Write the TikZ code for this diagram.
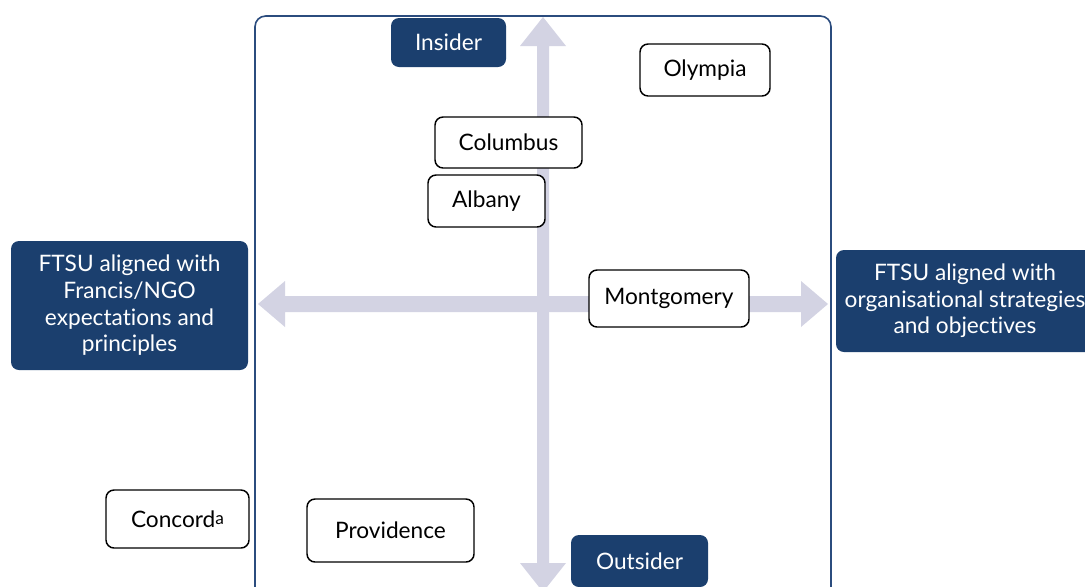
\documentclass[tikz,border=0pt]{standalone}
\usepackage{fontspec}
\setmainfont[Ligatures={NoCommon,NoRare}]{Lato}
\definecolor{navy}{HTML}{1B3F6E}
\definecolor{framec}{HTML}{2B4C7E}
\definecolor{arrowc}{HTML}{D3D3E3}
\begin{document}
\begin{tikzpicture}[x=0.75pt,y=-0.75pt,
  bluebox/.style={fill=navy, rounded corners=6pt, text=white, align=center, inner sep=0pt, font=\fontsize{17}{20}\selectfont},
  whitebox/.style={fill=white, draw=black, line width=1.1pt, rounded corners=6pt, inner sep=0pt, font=\fontsize{17}{20}\selectfont},
  axisarrow/.style={fill=arrowc, draw=none}]
\useasboundingbox (0,0) rectangle (1085,586);
\clip (0,0) rectangle (1085,586);
% frame
\draw[framec, line width=1.2pt, rounded corners=8pt] (255,16) rectangle (831,620);
% vertical double arrow
\fill[axisarrow] (543,17) -- (566,46) -- (549,46) -- (549,563) -- (566,563) -- (543,592) -- (520,563) -- (537,563) -- (537,46) -- (520,46) -- cycle;
% horizontal double arrow
\fill[axisarrow] (258,304) -- (285,281) -- (285,296) -- (801,296) -- (801,281) -- (828,304) -- (801,327) -- (801,312) -- (285,312) -- (285,327) -- cycle;
% blue labels
\node[bluebox, minimum width=115*0.75pt, minimum height=49*0.75pt] (insider) at (448.5,42.5) {Insider};
\node[bluebox, minimum width=137*0.75pt, minimum height=52*0.75pt] (outsider) at (639.5,561) {Outsider};
\node[bluebox, minimum width=237*0.75pt, minimum height=129*0.75pt] (left) at (129.5,305.5) {FTSU aligned with\\Francis/NGO\\expectations and\\principles};
\node[bluebox, minimum width=258*0.75pt, minimum height=102*0.75pt] (right) at (965,301) {FTSU aligned with\\organisational strategies\\and objectives};
% white boxes
\node[whitebox, minimum width=130*0.75pt, minimum height=52*0.75pt] (olympia) at (705,70) {Olympia};
\node[whitebox, minimum width=147*0.75pt, minimum height=51*0.75pt] (columbus) at (508.5,142.5) {Columbus};
\node[whitebox, minimum width=117*0.75pt, minimum height=52*0.75pt] (albany) at (486.5,201) {Albany};
\node[whitebox, minimum width=160*0.75pt, minimum height=57*0.75pt] (montgomery) at (669,298.5) {Montgomery};
\node[whitebox, minimum width=143*0.75pt, minimum height=58*0.75pt] (concord) at (177.5,519) {Concord{\fontsize{13}{13}\selectfont\raisebox{0.35ex}{a}}};
\node[whitebox, minimum width=167*0.75pt, minimum height=63*0.75pt] (providence) at (390.5,530.5) {Providence};
\end{tikzpicture}
\end{document}
